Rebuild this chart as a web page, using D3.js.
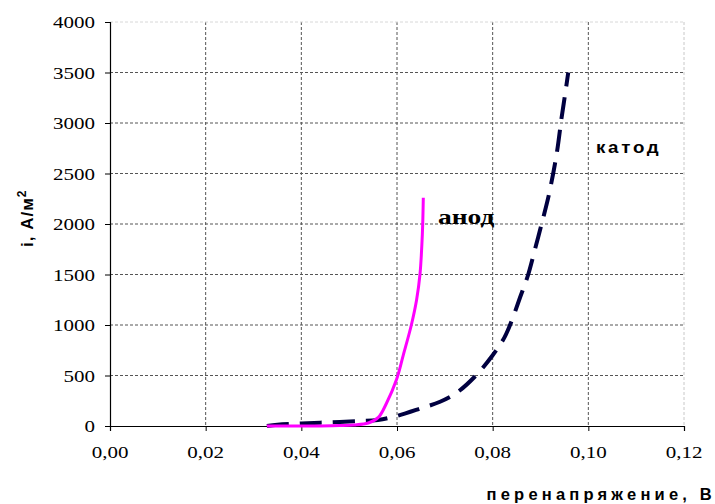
<!DOCTYPE html>
<html><head><meta charset="utf-8">
<script src="https://cdn.jsdelivr.net/npm/d3@7"></script>
<style>body{margin:0;background:#fff}svg{display:block}</style>
</head><body>
<svg id="c" width="715" height="504"></svg>
<script>
const xTicks = [0, 0.02, 0.04, 0.06, 0.08, 0.10, 0.12];
const yTicks = [0, 500, 1000, 1500, 2000, 2500, 3000, 3500, 4000];
const anodeX = [0.0328, 0.038, 0.044, 0.048, 0.051, 0.054, 0.0561, 0.0578, 0.0599, 0.0613, 0.0630, 0.0641, 0.0648, 0.0653, 0.0655];
const anodeY = [0, 0, 1, 4, 10, 30, 85, 225, 460, 700, 1000, 1250, 1500, 1900, 2260];
const cathodeX = [0.0328, 0.035, 0.040, 0.046, 0.052, 0.056, 0.060, 0.065, 0.069, 0.0725, 0.0763, 0.080, 0.0825, 0.0842, 0.0857, 0.0873, 0.0889, 0.0905, 0.0918, 0.0934, 0.0944, 0.0951, 0.0958];
const cathodeY = [0, 12, 25, 37, 48, 60, 100, 175, 240, 330, 490, 700, 880, 1070, 1270, 1480, 1760, 2050, 2300, 2700, 3050, 3270, 3500];
const xLabel = "перенапряжение, В";
const anodeLabel = "анод";
const cathodeLabel = "катод";

const SERIF = "Liberation Serif", SANS = "Liberation Sans";
const svg = d3.select("#c");
const L = 110, R = 684, T = 22, B = 426;
const x = d3.scaleLinear().domain([0, 0.12]).range([L, R]);
const y = d3.scaleLinear().domain([0, 4000]).range([B, T]);
const fmt = d => d.toFixed(2).replace(".", ",");

// gridlines
const g = svg.append("g");
xTicks.filter(d => d > 0).forEach(d => {
  g.append("line").attr("x1", x(d)).attr("x2", x(d)).attr("y1", y(4000)).attr("y2", y(0))
    .attr("stroke", d === 0.12 ? "#c8c8c8" : "#555").attr("stroke-width", 1).attr("stroke-dasharray", "3,2");
});
yTicks.filter(d => d > 0).forEach(d => {
  g.append("line").attr("x1", x(0)).attr("x2", x(0.12)).attr("y1", y(d)).attr("y2", y(d))
    .attr("stroke", d === 4000 ? "#d8d8d8" : "#555").attr("stroke-width", 1).attr("stroke-dasharray", "3,2");
});

// axes (lines and tick marks)
const xa = svg.append("g").attr("transform", `translate(0,${B})`)
  .call(d3.axisBottom(x).tickValues(xTicks).tickFormat("").tickSize(5));
const ya = svg.append("g").attr("transform", `translate(${L},0)`)
  .call(d3.axisLeft(y).tickValues(yTicks).tickFormat("").tickSize(5));
[xa, ya].forEach(a => {
  a.select(".domain").attr("stroke", "#000").attr("stroke-width", 1.2);
  a.selectAll(".tick line").attr("stroke", "#000");
  a.selectAll(".tick text").remove();
});

// tick labels, placed from the same scales
xTicks.forEach(d => {
  svg.append("text").text(fmt(d))
    .attr("font-family", SERIF).attr("font-size", 17.5).attr("text-anchor", "middle")
    .attr("transform", `translate(${x(d)},458) scale(1.2,1)`);
});
yTicks.forEach(d => {
  svg.append("text").text(String(d))
    .attr("font-family", SERIF).attr("font-size", 17.5).attr("text-anchor", "end")
    .attr("transform", `translate(95,${y(d) + 6}) scale(1.2,1)`);
});

// curves
const line = d3.line().x(d => x(d[0])).y(d => y(d[1])).curve(d3.curveCatmullRom.alpha(0.5));
const cathode = cathodeX.map((v, i) => [v, cathodeY[i]]);
const anode = anodeX.map((v, i) => [v, anodeY[i]]);
svg.append("path").datum(cathode).attr("d", line).attr("fill", "none")
  .attr("stroke", "#000040").attr("stroke-width", 4).attr("stroke-dasharray", "22,11");
svg.append("path").datum(anode).attr("d", line).attr("fill", "none")
  .attr("stroke", "#ff00ff").attr("stroke-width", 3);

// labels
svg.append("text").text(anodeLabel)
  .attr("font-family", SERIF).attr("font-weight", "bold").attr("font-size", 22)
  .attr("transform", "translate(438,224) scale(1.25,1)");
svg.append("text").text(cathodeLabel)
  .attr("font-family", SANS).attr("font-weight", "bold").attr("font-size", 17)
  .attr("letter-spacing", 2.5)
  .attr("transform", "translate(596,153) scale(1.1,1)");
svg.append("text").text(xLabel)
  .attr("font-family", SANS).attr("font-weight", "bold").attr("font-size", 16.5)
  .attr("letter-spacing", 4.2).attr("text-anchor", "end")
  .attr("x", 716).attr("y", 500);
const yl = svg.append("text").attr("transform", "translate(33,247) rotate(-90)")
  .attr("font-family", SANS).attr("font-weight", "bold").attr("font-size", 17)
  .attr("letter-spacing", 1);
yl.append("tspan").text("i, А/м");
yl.append("tspan").attr("dy", -7).attr("font-size", 12).text("2");
</script>
</body></html>
